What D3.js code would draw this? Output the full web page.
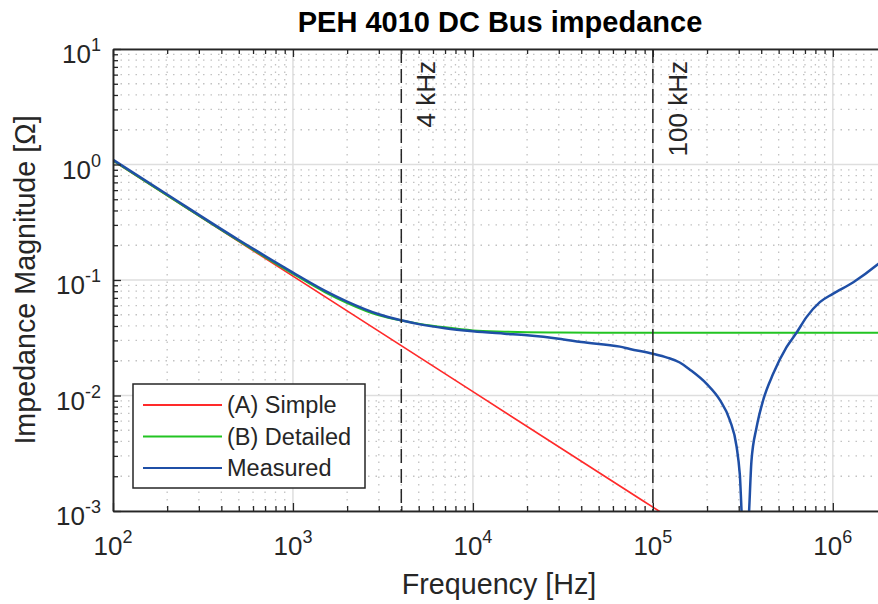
<!DOCTYPE html>
<html>
<head>
<meta charset="utf-8">
<script src="https://cdn.jsdelivr.net/npm/d3@7"></script>
<style>
body { margin: 0; background: #fff; }
svg { display: block; }
text { font-family: "Liberation Sans", Arial, Helvetica, sans-serif; fill: #262626; }
</style>
</head>
<body>
<svg></svg>
<script>
// (A) simple model - straight 1/f line
let freqA = [100, 1000, 10000, 100000, 120000]
let zA = [1.08, 0.108, 0.0108, 0.00108, 0.0009]

// (B) detailed model - capacitor + ESR
let freqB = [100, 200, 500, 1000, 1500, 2000, 3000, 4000, 5000, 7000, 10000, 15000, 20000, 30000, 50000, 100000, 1000000, 2000000]
let zB = [1.08, 0.54, 0.218, 0.113, 0.0787, 0.0632, 0.0494, 0.0446, 0.0419, 0.0389, 0.0366, 0.0357, 0.0353, 0.0351, 0.035, 0.035, 0.035, 0.035]

// measured
let freqM = [100, 200, 500, 1000, 1500, 2000, 3000, 4000, 5000, 7000, 10000, 15000, 20000, 30000, 40000, 65600, 74500, 100000,
    120000, 141000, 160000, 199000, 236000, 268000, 292000, 304000, 318000, 337000, 353000, 377000, 410000, 466000, 553000, 628000,
    714000, 847000, 1000000, 1300000, 1750000, 2000000]
let zM = [1.1, 0.55, 0.222, 0.116, 0.081, 0.065, 0.0505, 0.0448, 0.0415, 0.0382, 0.036, 0.0343, 0.0332, 0.031, 0.029, 0.0265, 0.0253, 0.023,
    0.0213, 0.0193, 0.0168, 0.0126, 0.0091, 0.0061, 0.0036, 0.0021, 0.0006, 0.0007, 0.0027, 0.0053, 0.0091, 0.0154, 0.0262, 0.0349,
    0.0477, 0.0643, 0.0759, 0.0957, 0.134, 0.16]

let seriesNames = ["(A) Simple", "(B) Detailed", "Measured"]
let seriesColors = ["#ff2a2a", "#22c422", "#1f4fa6"]
let seriesWidths = [1.7, 2, 2.5]

let xMajor = [1e2, 1e3, 1e4, 1e5, 1e6]
let yMajor = [1e-3, 1e-2, 1e-1, 1e0, 1e1]
let markers = [4000, 100000]
let markerLabels = ["4 kHz", "100 kHz"]

let series = [
    freqA.map((f, i) => [f, zA[i]]),
    freqB.map((f, i) => [f, zB[i]]),
    freqM.map((f, i) => [f, zM[i]])
]

let svg = d3.select("svg").attr("width", 878).attr("height", 604)

let plotLeft = 113, plotRight = 887, plotTop = 49, plotBottom = 511
let axisColor = "#262626"

let scX = d3.scaleLog().domain([1e2, 2e6]).range([plotLeft, plotRight])
let scY = d3.scaleLog().domain([1e-3, 1e1]).range([plotBottom, plotTop])

svg.append("defs").append("clipPath").attr("id", "plotClip")
    .append("rect")
    .attr("x", plotLeft).attr("y", plotTop)
    .attr("width", plotRight - plotLeft).attr("height", plotBottom - plotTop)

let isDecade = d => Math.abs(Math.log10(d) - Math.round(Math.log10(d))) < 1e-9
let xMinor = scX.ticks().filter(d => !isDecade(d))
let yMinor = scY.ticks().filter(d => !isDecade(d))

// grid
let grid = svg.append("g")
grid.selectAll(".xminor").data(xMinor).enter().append("line")
    .attr("x1", d => scX(d)).attr("x2", d => scX(d))
    .attr("y1", plotTop).attr("y2", plotBottom)
    .attr("stroke", "#c2c2c2").attr("stroke-width", 1.3).attr("stroke-dasharray", "1.5,6")
grid.selectAll(".yminor").data(yMinor).enter().append("line")
    .attr("x1", plotLeft).attr("x2", plotRight)
    .attr("y1", d => scY(d)).attr("y2", d => scY(d))
    .attr("stroke", "#c2c2c2").attr("stroke-width", 1.3).attr("stroke-dasharray", "1.5,6")
grid.selectAll(".xmajor").data(xMajor).enter().append("line")
    .attr("x1", d => scX(d)).attr("x2", d => scX(d))
    .attr("y1", plotTop).attr("y2", plotBottom)
    .attr("stroke", "#dedede").attr("stroke-width", 1.5)
grid.selectAll(".ymajor").data(yMajor).enter().append("line")
    .attr("x1", plotLeft).attr("x2", plotRight)
    .attr("y1", d => scY(d)).attr("y2", d => scY(d))
    .attr("stroke", "#dedede").attr("stroke-width", 1.5)

// curves
let line = d3.line().x(d => scX(d[0])).y(d => scY(d[1])).curve(d3.curveMonotoneX)
let curves = svg.append("g").attr("clip-path", "url(#plotClip)")
series.forEach((s, i) => {
    curves.append("path")
        .attr("d", line(s))
        .attr("fill", "none")
        .attr("stroke", seriesColors[i])
        .attr("stroke-width", seriesWidths[i])
        .attr("stroke-linejoin", "round")
})

// frequency markers
svg.selectAll(".marker").data(markers).enter().append("line")
    .attr("x1", d => scX(d)).attr("x2", d => scX(d))
    .attr("y1", plotTop).attr("y2", plotBottom)
    .attr("stroke", axisColor).attr("stroke-width", 1.5).attr("stroke-dasharray", "14,6")
svg.selectAll(".markerLabel").data(markers).enter().append("text")
    .attr("transform", d => `translate(${scX(d) + 34}, 61) rotate(-90)`)
    .attr("text-anchor", "end")
    .style("font-size", "26px")
    .text((d, i) => markerLabels[i])

// axes
function styleAxis(g) {
    g.selectAll(".domain").attr("stroke", axisColor).attr("stroke-width", 1.5)
    g.selectAll(".tick line").attr("stroke", axisColor).attr("stroke-width", 1.3)
}
let axes = [
    [d3.axisBottom, `translate(0, ${plotBottom})`, scX, xMajor, xMinor],
    [d3.axisTop, `translate(0, ${plotTop})`, scX, xMajor, xMinor],
    [d3.axisLeft, `translate(${plotLeft}, 0)`, scY, yMajor, yMinor]
]
axes.forEach(([ax, tr, sc, major, minor]) => {
    svg.append("g").attr("transform", tr)
        .call(ax(sc).tickValues(minor).tickSize(-5).tickSizeOuter(0).tickFormat(""))
        .call(styleAxis)
    svg.append("g").attr("transform", tr)
        .call(ax(sc).tickValues(major).tickSize(-8).tickSizeOuter(0).tickFormat(""))
        .call(styleAxis)
})

// tick labels as 10^n
let xLab = svg.selectAll(".xlab").data(xMajor).enter().append("text")
    .attr("x", d => scX(d)).attr("y", 555)
    .attr("text-anchor", "middle")
    .style("font-size", "26px")
xLab.append("tspan").text("10")
xLab.append("tspan").attr("dy", -12).style("font-size", "18px").text(d => Math.round(Math.log10(d)))

let yLab = svg.selectAll(".ylab").data(yMajor).enter().append("text")
    .attr("x", 101).attr("y", d => scY(d) + 14)
    .attr("text-anchor", "end")
    .style("font-size", "26px")
yLab.append("tspan").text("10")
yLab.append("tspan").attr("dy", -12).style("font-size", "18px").text(d => Math.round(Math.log10(d)))

// titles
svg.append("text")
    .attr("x", 500).attr("y", 32)
    .attr("text-anchor", "middle")
    .style("font-size", "29px").style("font-weight", "bold").style("fill", "#000")
    .text("PEH 4010 DC Bus impedance")
svg.append("text")
    .attr("x", 499).attr("y", 594)
    .attr("text-anchor", "middle")
    .style("font-size", "28.7px")
    .text("Frequency [Hz]")
svg.append("text")
    .attr("transform", `translate(35, ${(plotTop + plotBottom) / 2}) rotate(-90)`)
    .attr("text-anchor", "middle")
    .style("font-size", "28.7px")
    .text("Impedance Magnitude [Ω]")

// legend
let legend = svg.append("g").attr("transform", "translate(133, 384)")
legend.append("rect")
    .attr("width", 232).attr("height", 104)
    .attr("fill", "#fff").attr("stroke", axisColor).attr("stroke-width", 1.5)
let rows = legend.selectAll(".row").data(seriesNames).enter().append("g")
    .attr("transform", (d, i) => `translate(0, ${21 + i * 31.5})`)
rows.append("line")
    .attr("x1", 10).attr("x2", 89)
    .attr("stroke", (d, i) => seriesColors[i])
    .attr("stroke-width", 2)
rows.append("text")
    .attr("x", 94).attr("y", 8)
    .style("font-size", "23.5px")
    .text(d => d)
</script>
</body>
</html>
